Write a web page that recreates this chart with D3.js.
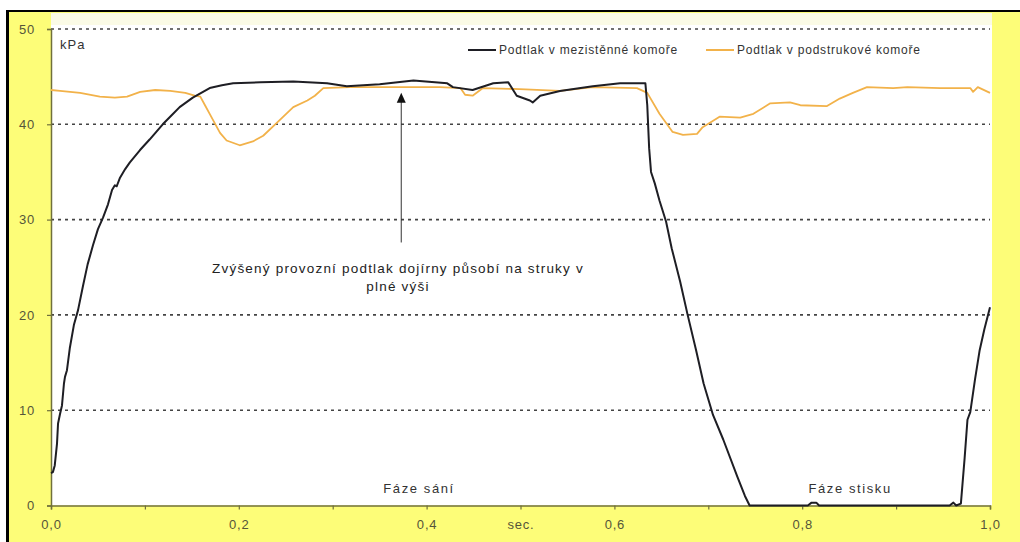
<!DOCTYPE html>
<html>
<head>
<meta charset="utf-8">
<script src="https://cdn.jsdelivr.net/npm/d3@7"></script>
<style>
  html, body { margin: 0; padding: 0; background: #ffffff; }
  svg { display: block; font-family: "Liberation Sans", Arial, sans-serif; }
</style>
</head>
<body>
<svg id="chart" width="1020" height="542"></svg>
<script>
// Vacuum in the pulsation (inter-wall) chamber, kPa over one pulsation cycle [sec, kPa]
const mezistenna = [
  [0.000, 3.4], [0.002, 3.5], [0.004, 4.2], [0.0064, 6.5], [0.0075, 8.6], [0.0096, 9.6],
  [0.0117, 10.5], [0.0138, 12.8], [0.0149, 13.5], [0.017, 14.2], [0.020, 16.5], [0.0245, 19.0],
  [0.0288, 20.5], [0.034, 23.0], [0.039, 25.3], [0.0447, 27.3], [0.050, 29.0], [0.0554, 30.2],
  [0.0607, 31.6], [0.065, 33.1], [0.068, 33.6], [0.070, 33.5], [0.0735, 34.4], [0.079, 35.3],
  [0.084, 36.0], [0.0948, 37.3], [0.105, 38.4], [0.119, 40.0], [0.129, 41.0], [0.137, 41.8],
  [0.151, 42.8], [0.169, 43.8], [0.182, 44.1], [0.194, 44.3], [0.223, 44.4], [0.258, 44.5],
  [0.294, 44.3], [0.315, 44.0], [0.350, 44.2], [0.386, 44.6], [0.422, 44.3], [0.428, 43.9],
  [0.449, 43.6], [0.471, 44.3], [0.487, 44.4], [0.496, 43.0], [0.510, 42.5], [0.513, 42.3],
  [0.521, 43.0], [0.542, 43.5], [0.577, 44.0], [0.606, 44.3], [0.633, 44.3], [0.635, 42.0],
  [0.637, 37.5], [0.639, 35.0], [0.643, 33.8], [0.648, 32.0], [0.655, 29.8], [0.661, 27.0],
  [0.670, 23.5], [0.678, 20.0], [0.687, 16.3], [0.695, 12.8], [0.705, 9.5], [0.716, 6.9],
  [0.731, 3.0], [0.739, 1.0], [0.744, 0.0], [0.806, 0.0], [0.810, 0.3], [0.815, 0.3],
  [0.818, 0.0], [0.957, 0.0], [0.961, 0.3], [0.964, 0.0], [0.969, 0.2], [0.973, 5.0],
  [0.976, 9.0], [0.979, 9.8], [0.984, 13.2], [0.989, 16.3], [0.994, 18.5], [1.000, 20.8]
];

// Vacuum under the teat (teat-cup liner chamber), kPa [sec, kPa]
const podstrukova = [
  [0.000, 43.6], [0.0096, 43.5], [0.031, 43.3], [0.052, 42.9], [0.068, 42.8], [0.081, 42.9],
  [0.095, 43.4], [0.111, 43.6], [0.127, 43.5], [0.143, 43.3], [0.153, 43.0], [0.159, 42.9],
  [0.164, 42.0], [0.169, 41.1], [0.180, 39.1], [0.187, 38.3], [0.201, 37.8], [0.215, 38.2],
  [0.226, 38.8], [0.241, 40.2], [0.258, 41.8], [0.273, 42.5], [0.281, 43.0], [0.290, 43.8],
  [0.318, 43.9], [0.372, 43.9], [0.414, 43.9], [0.436, 43.8], [0.441, 43.1], [0.449, 43.0],
  [0.460, 43.8], [0.499, 43.7], [0.542, 43.5], [0.577, 43.9], [0.624, 43.8], [0.635, 43.3],
  [0.648, 41.1], [0.662, 39.2], [0.673, 38.9], [0.688, 39.0], [0.694, 39.7], [0.712, 40.8],
  [0.734, 40.7], [0.748, 41.1], [0.766, 42.2], [0.787, 42.3], [0.798, 42.0], [0.826, 41.9],
  [0.840, 42.7], [0.854, 43.3], [0.869, 43.9], [0.897, 43.8], [0.912, 43.9], [0.947, 43.8],
  [0.979, 43.8], [0.982, 43.4], [0.987, 43.9], [1.000, 43.3]
];

const seriesNames = ["Podtlak v mezistěnné komoře", "Podtlak v podstrukové komoře"];
const xTicks = [0, 0.1, 0.2, 0.3, 0.4, 0.5, 0.6, 0.7, 0.8, 0.9, 1.0];
const xTickLabels = [0, 0.2, 0.4, 0.6, 0.8, 1.0];
const yTicks = [0, 10, 20, 30, 40, 50];
const phaseLabels = [["Fáze sání", 0.392], ["Fáze stisku", 0.851]];
const noteLines = ["Zvýšený provozní podtlak dojírny působí na struky v", "plné výši"];
const noteArrow = { t: 0.373, from: 27.6, to: 43.3 };

const svg = d3.select("#chart");
const W = 1020, H = 542;
const plot = { left: 51, right: 990, top: 29, bottom: 505.5 };

const x = d3.scaleLinear().domain([0, 1]).range([plot.left, plot.right]);
const y = d3.scaleLinear().domain([0, 50]).range([plot.bottom, plot.top]);

// frame: yellow surround, white plotting area, black outer edge
svg.append("rect").attr("x", 0).attr("y", 0).attr("width", W).attr("height", H).attr("fill", "#ffffff");
svg.append("rect").attr("x", 8).attr("y", 11).attr("width", W - 8).attr("height", H - 11).attr("fill", "#fdfd78");
svg.append("rect").attr("x", plot.left).attr("y", 13).attr("width", 992 - plot.left).attr("height", plot.bottom - 13)
  .attr("fill", "#ffffff");
svg.append("rect").attr("x", plot.left).attr("y", 13).attr("width", 992 - plot.left).attr("height", 12)
  .attr("fill", "#fbfbe6");
svg.append("rect").attr("x", 6).attr("y", 10).attr("width", 3).attr("height", H - 10).attr("fill", "#000");
svg.append("rect").attr("x", 6).attr("y", 10).attr("width", W - 6).attr("height", 2).attr("fill", "#000");

// horizontal dotted gridlines
svg.append("g").selectAll("line").data(yTicks.filter(d => d > 0)).join("line")
  .attr("x1", plot.left).attr("x2", plot.right)
  .attr("y1", d => y(d)).attr("y2", d => y(d))
  .attr("stroke", "#444").attr("stroke-width", 1.6).attr("stroke-dasharray", "3,4");

// axes
const axisColor = "#70703c";
const labelColor = "#55553a";

const yAxis = svg.append("g").attr("transform", `translate(${plot.left},0)`)
  .call(d3.axisLeft(y).tickValues(yTicks).tickSize(4).tickPadding(12).tickFormat(d3.format("d")));
const xAxis = svg.append("g").attr("transform", `translate(0,${plot.bottom})`)
  .call(d3.axisBottom(x).tickValues(xTicks).tickSize(4).tickPadding(10)
    .tickFormat(d => xTickLabels.some(v => Math.abs(v - d) < 1e-9) ? d3.format(".1f")(d).replace(".", ",")
      : (Math.abs(d - 0.5) < 1e-9 ? "sec." : "")));
[yAxis, xAxis].forEach(g => {
  g.select(".domain").attr("stroke", axisColor).attr("stroke-width", 1.5);
  g.selectAll(".tick line").attr("stroke", axisColor).attr("stroke-width", 1.2);
  g.selectAll(".tick text").attr("fill", labelColor).attr("font-size", 13).attr("letter-spacing", 0.8)
    .attr("font-family", "'Liberation Sans', Arial, sans-serif");
});

// unit label
svg.append("text").attr("x", 60).attr("y", 49).attr("font-size", 13).attr("letter-spacing", 1)
  .attr("fill", "#333").text("kPa");

// series lines
const line = d3.line().x(d => x(d[0])).y(d => y(d[1]));
svg.append("path").datum(podstrukova).attr("d", line)
  .attr("fill", "none").attr("stroke", "#f2b24a").attr("stroke-width", 1.8).attr("stroke-linejoin", "round");
svg.append("path").datum(mezistenna).attr("d", line)
  .attr("fill", "none").attr("stroke", "#1e1e24").attr("stroke-width", 2).attr("stroke-linejoin", "round");

// legend
const legend = [
  { name: seriesNames[0], color: "#1e1e24", x0: 468 },
  { name: seriesNames[1], color: "#f2b24a", x0: 706 }
];
const lg = svg.append("g").selectAll("g").data(legend).join("g");
lg.append("line").attr("x1", d => d.x0).attr("x2", d => d.x0 + 28).attr("y1", 50).attr("y2", 50)
  .attr("stroke", d => d.color).attr("stroke-width", 2);
lg.append("text").attr("x", d => d.x0 + 31).attr("y", 54).attr("font-size", 12).attr("letter-spacing", 0.8)
  .attr("fill", "#333").text(d => d.name);

// annotation with arrow
const ax = x(noteArrow.t);
svg.append("line").attr("x1", ax).attr("x2", ax).attr("y1", y(noteArrow.from)).attr("y2", y(noteArrow.to) + 8)
  .attr("stroke", "#333").attr("stroke-width", 1);
svg.append("path")
  .attr("d", `M${ax},${y(noteArrow.to)} L${ax - 4.5},${y(noteArrow.to) + 10} L${ax + 4.5},${y(noteArrow.to) + 10} Z`)
  .attr("fill", "#111");
svg.append("g").selectAll("text").data(noteLines).join("text")
  .attr("x", 398).attr("y", (d, i) => 273 + i * 18)
  .attr("text-anchor", "middle").attr("font-size", 13.5).attr("letter-spacing", 1.2).attr("fill", "#222")
  .text(d => d);

// phase labels
svg.append("g").selectAll("text").data(phaseLabels).join("text")
  .attr("x", d => x(d[1])).attr("y", 493)
  .attr("text-anchor", "middle").attr("font-size", 13).attr("letter-spacing", 1.6).attr("fill", "#333")
  .text(d => d[0]);
</script>
</body>
</html>
